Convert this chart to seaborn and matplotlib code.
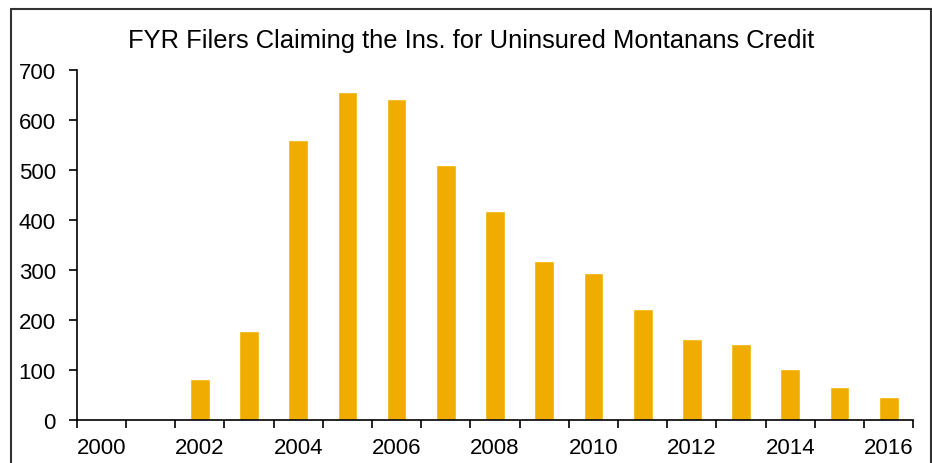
import pandas as pd
import matplotlib.pyplot as plt
import seaborn as sns

# data
years = [str(y) for y in range(2000, 2017)]
filers = [0, 0, 82, 177, 560, 656, 642, 510, 417, 318, 293, 222, 161, 151, 101, 66, 45]

df = pd.DataFrame({'year': years, 'filers': filers})

sns.set_theme(style='white')
plt.rcParams['font.family'] = ['Liberation Sans', 'DejaVu Sans']

fig = plt.figure(figsize=(9.32, 4.64), dpi=100)
ax = fig.add_axes([0.0823, 0.0927, 0.9800 - 0.0823, 0.8476 - 0.0927])

sns.barplot(data=df, x='year', y='filers', color='#F0AD00', saturation=1,
            width=0.4, ax=ax)

ax.set_xlim(-0.5, len(years) - 0.5)
ax.set_ylim(0, 700)
ax.set_yticks(range(0, 701, 100))
ax.set_xlabel('')
ax.set_ylabel('')

# labels every second year, tick marks at category boundaries
ax.set_xticks(range(0, len(years), 2))
ax.set_xticklabels(years[::2])
ax.set_xticks([i - 0.5 for i in range(len(years) + 1)], minor=True)
ax.tick_params(axis='x', which='major', length=0, pad=12, labelsize=16, colors='black')
ax.tick_params(axis='x', which='minor', bottom=True, length=6, width=1.2, color='black', direction='out')
ax.tick_params(axis='y', left=True, length=6, width=1.2, pad=9, labelsize=16,
               colors='black', direction='out')

for s in ['top', 'right']:
    ax.spines[s].set_visible(False)
for s in ['left', 'bottom']:
    ax.spines[s].set_color('black')
    ax.spines[s].set_linewidth(1.2)

fig.text(0.5054, 1 - 48 / 464, 'FYR Filers Claiming the Ins. for Uninsured Montanans Credit',
         ha='center', va='baseline', fontsize=18.4, color='black')

# outer frame (bottom edge is cut off in the original)
frame = plt.Rectangle((11 / 932, -0.1), 920 / 932, 1.1 - 10 / 464, transform=fig.transFigure,
                      fill=False, edgecolor='#333333', linewidth=1.5, clip_on=False)
fig.patches.append(frame)

fig.savefig('out.png', dpi=100)
